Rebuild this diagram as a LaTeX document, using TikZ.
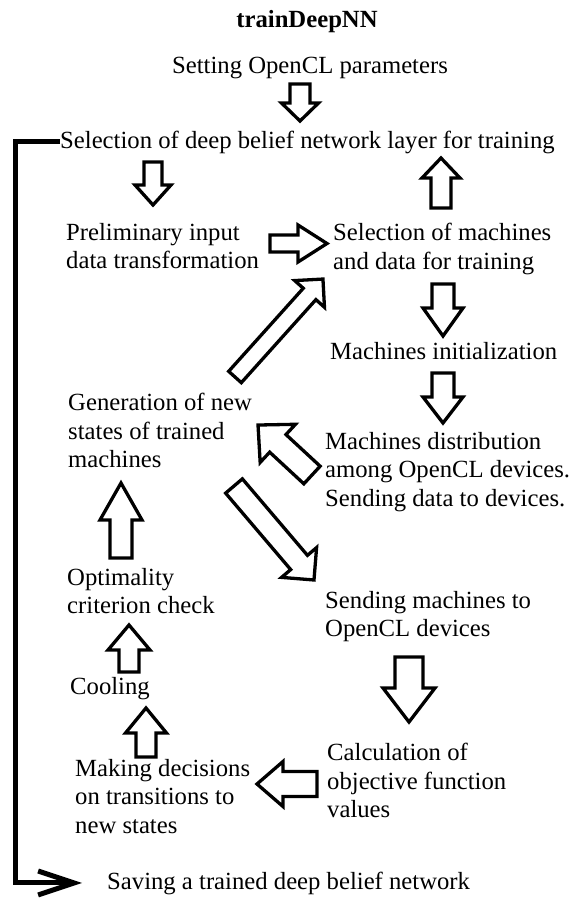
\documentclass[tikz,border=0pt]{standalone}
\usepackage{fontspec}
\setmainfont{Liberation Serif}
\usetikzlibrary{calc,arrows.meta}
\def\blockarrow(#1)(#2)(#3:#4:#5){%
  \path let \p1=(#1), \p2=(#2) in \pgfextra{%
    \pgfmathsetmacro\blkang{atan2(\y2-\y1,\x2-\x1)}%
    \pgfmathsetmacro\blklen{veclen(\x2-\x1,\y2-\y1)}%
    \global\let\blkang\blkang\global\let\blklen\blklen};
  \draw[blk, shift={(#1)}, rotate=\blkang]
    (0pt,{-#3/2*1pt}) -- ({(\blklen-#5)*1pt},{-#3/2*1pt}) -- ({(\blklen-#5)*1pt},{-#4/2*1pt})
    -- ({\blklen*1pt},0pt) -- ({(\blklen-#5)*1pt},{#4/2*1pt}) -- ({(\blklen-#5)*1pt},{#3/2*1pt})
    -- (0pt,{#3/2*1pt}) -- cycle;}

\begin{document}
\begin{tikzpicture}[x=1pt,y=-1pt,
    txt/.style={inner sep=0pt, align=left, anchor=north west, font=\fontsize{24.7}{28.5}\selectfont},
    blk/.style={line width=3.3pt, fill=white},
    bracket/.style={line width=5pt}]
			%%%%% START %%%%%
			\useasboundingbox (0,0) rectangle (576,898);
			
			\node[txt, anchor=base, font=\fontsize{24.7}{28.5}\selectfont\bfseries] (title) at (307,27) {trainDeepNN};
			\node[txt, anchor=base] (setcl) at (310,73) {Setting OpenCL parameters};
			\node[txt, anchor=base west] (layer) at (60,148) {Selection of deep belief network layer for training};
			
			\node[txt] (prelim) at (66,223) {Preliminary input\\data transformation};
			\node[txt] (selmach) at (333,223) {Selection of machines\\and data for training};
			\node[txt, anchor=base west] (init) at (330,359) {Machines initialization};
			\node[txt] (gener) at (68,393) {Generation of new\\states of trained\\machines};
			\node[txt] (distr) at (325,432) {Machines distribution\\among OpenCL devices.\\Sending data to devices.};
			\node[txt] (optim) at (67,568) {Optimality\\criterion check};
			\node[txt] (sendm) at (325,591) {Sending machines to\\OpenCL devices};
			\node[txt, anchor=base west] (cool) at (70,694) {Cooling};
			\node[txt] (calc) at (327,743) {Calculation of\\objective function\\values};
			\node[txt] (decide) at (75,759) {Making decisions\\on transitions to\\new states};
			\node[txt, anchor=base west] (save) at (107,889) {Saving a trained deep belief network};
			
			% block arrows
			\coordinate (a1s) at (300,84);  \coordinate (a1e) at (300,121);
			\coordinate (a2s) at (153,162); \coordinate (a2e) at (153,205);
			\coordinate (a3s) at (441,208); \coordinate (a3e) at (441,158);
			\coordinate (a4s) at (270,243.5); \coordinate (a4e) at (327,243.5);
			\coordinate (a5s) at (443,284); \coordinate (a5e) at (443,336);
			\coordinate (a6s) at (443,373); \coordinate (a6e) at (443,423);
			\coordinate (a7s) at (312,475); \coordinate (a7e) at (258,425);
			\coordinate (a8s) at (235,377); \coordinate (a8e) at (323,279);
			\coordinate (a9s) at (234,486); \coordinate (a9e) at (314,580);
			\coordinate (a10s) at (121,558); \coordinate (a10e) at (121,483);
			\coordinate (a11s) at (129,672); \coordinate (a11e) at (129,625);
			\coordinate (a12s) at (146,757); \coordinate (a12e) at (146,708);
			\coordinate (a13s) at (409,657); \coordinate (a13e) at (409,722);
			\coordinate (a14s) at (317,784); \coordinate (a14e) at (257,784);
			
			\blockarrow(a1s)(a1e)(20:37:18)
			\blockarrow(a2s)(a2e)(18:36:20)
			\blockarrow(a3s)(a3e)(20:38:20)
			\blockarrow(a4s)(a4e)(17:37:29)
			\blockarrow(a5s)(a5e)(22:40:28)
			\blockarrow(a6s)(a6e)(22:40:26)
			\blockarrow(a7s)(a7e)(24:52:27)
			\blockarrow(a8s)(a8e)(17:40:20)
			\blockarrow(a9s)(a9e)(22:46:23)
			\blockarrow(a10s)(a10e)(22:42:37)
			\blockarrow(a11s)(a11e)(20:42:25)
			\blockarrow(a12s)(a12e)(20:41:25)
			\blockarrow(a13s)(a13e)(28:52:34)
			\blockarrow(a14s)(a14e)(25:45:26)
			
			% way out to saving
			\draw[bracket, shorten >=25pt, -{Straight Barb[length=36pt,width=24pt]}] (layer.west) -- ++(-45,0) |- (save.west);
			%%%%% END %%%%%
\end{tikzpicture}
\end{document}
